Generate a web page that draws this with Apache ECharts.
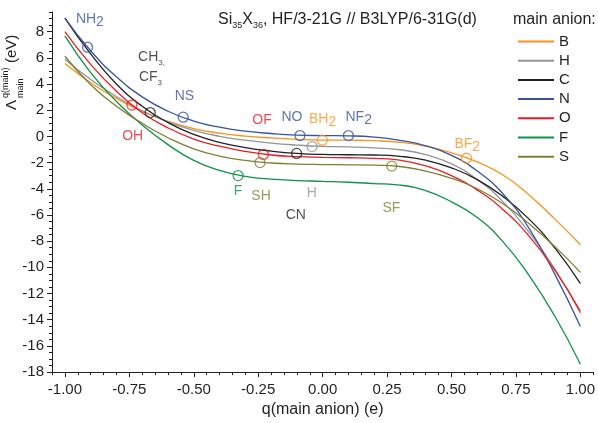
<!DOCTYPE html>
<html><head><meta charset="utf-8">
<script src="https://cdn.jsdelivr.net/npm/echarts@6/dist/echarts.min.js"></script>
<style>html,body{margin:0;padding:0;background:#fff}#c{width:598px;height:423px}</style>
</head><body><div id="c"></div>
<script>
// ---------- data ----------
const qs = [-1.0,-0.9,-0.8,-0.7,-0.6,-0.5,-0.4,-0.3,-0.2,-0.1,0,0.1,0.2,0.3,0.4,0.5,0.6,0.7,0.8,0.9,1.0];
const seriesNames = ['B','H','C','N','O','F','S'];
const valB = [5.57,4.1,2.9,1.9,1.15,0.6,0.25,0.02,-0.12,-0.22,-0.28,-0.29,-0.33,-0.45,-0.75,-1.25,-1.95,-2.95,-4.45,-6.3,-8.27];
const valH = [5.89,4.34,3.04,1.96,1.11,0.46,0.01,-0.29,-0.51,-0.66,-0.76,-0.8,-0.88,-1.02,-1.4,-2.1,-3.3,-5.0,-7.3,-10.1,-13.5];
const valC = [9.04,6.3,4.0,2.3,1.05,0.15,-0.45,-0.85,-1.12,-1.3,-1.38,-1.4,-1.42,-1.52,-1.82,-2.4,-3.3,-4.6,-6.3,-8.5,-11.25];
const valN = [9.04,6.54,4.55,3.02,1.92,1.17,0.7,0.4,0.22,0.1,0.06,0.04,-0.05,-0.3,-0.72,-1.45,-2.65,-4.4,-7.0,-10.5,-14.52];
const valO = [8.0,5.5,3.45,1.81,0.65,-0.2,-0.75,-1.15,-1.42,-1.55,-1.6,-1.63,-1.68,-1.82,-2.25,-3.0,-4.1,-5.6,-7.6,-10.2,-13.36];
const valF = [7.67,4.87,2.67,0.87,-0.63,-1.83,-2.6,-3.05,-3.27,-3.37,-3.43,-3.5,-3.6,-3.72,-4.15,-5.0,-6.2,-8.05,-10.6,-13.7,-17.4];
const valS = [6.12,3.95,2.3,1.0,-0.1,-0.95,-1.5,-1.83,-2.03,-2.12,-2.15,-2.17,-2.2,-2.3,-2.65,-3.2,-4.0,-5.15,-6.65,-8.4,-10.38];

const markB = [[-0.001,-0.29],[0.558,-1.67]];
const markH = [[-0.041,-0.78]];
const markC = [[-0.669,1.82],[-0.101,-1.30]];
const markN = [[-0.912,6.81],[-0.541,1.47],[-0.088,0.06],[0.1,0.06]];
const markO = [[-0.74,2.39],[-0.23,-1.38]];
const markF = [[-0.328,-2.99]];
const markS = [[-0.243,-2.0],[0.268,-2.27]];

// label text: [q, value, text, series]
const labelItems = [
  [-0.903, 8.94, 'NH{s|2}', 'N'],
  [-0.664, 6.09, 'CH{t|3,}', 'C'],
  [-0.668, 4.55, 'CF{t|3}', 'C'],
  [-0.536, 3.04, 'NS', 'N'],
  [-0.737, -0.01, 'OH', 'O'],
  [-0.235, 1.25, 'OF', 'O'],
  [-0.119, 1.45, 'NO', 'N'],
  [0.0, 1.35, 'BH{s|2}', 'B'],
  [0.14, 1.5, 'NF{s|2}', 'N'],
  [0.561, -0.6, 'BF{s|2}', 'B'],
  [-0.328, -4.18, 'F', 'F'],
  [-0.239, -4.59, 'SH', 'S'],
  [-0.042, -4.33, 'H', 'H'],
  [-0.104, -6.0, 'CN', 'C'],
  [0.267, -5.45, 'SF', 'S']
];

const xTicks = [-1.0,-0.75,-0.5,-0.25,0,0.25,0.5,0.75,1.0];
const yTicks = [-18,-16,-14,-12,-10,-8,-6,-4,-2,0,2,4,6,8];
const titleText = '{n|Si}{s|35}{n|X}{s|36}{n|, HF/3-21G // B3LYP/6-31G(d)}';
const legendTitle = 'main anion:';
const xName = 'q(main anion) (e)';

// ---------- chart ----------
const FONT = '"Liberation Sans", Arial, sans-serif';
const TXT = '#231f20';
const colors = {B:'#f7941d', H:'#939598', C:'#231f20', N:'#3953a4', O:'#ed1c24', F:'#0f9147', S:'#7f7f33'};
const vals = {B:valB, H:valH, C:valC, N:valN, O:valO, F:valF, S:valS};
const marks = {B:markB, H:markH, C:markC, N:markN, O:markO, F:markF, S:markS};

const series = [];
seriesNames.forEach(n => {
  series.push({
    name: n, type: 'line', smooth: true, symbol: 'none', showSymbol: false,
    data: qs.map((q, i) => [q, vals[n][i]]),
    lineStyle: {color: colors[n], width: 1.3},
    itemStyle: {color: colors[n]},
    z: 2, silent: true
  });
});
seriesNames.forEach(n => {
  series.push({
    name: n + '_m', type: 'scatter', symbol: 'circle', symbolSize: 10,
    data: marks[n],
    itemStyle: {color: 'rgba(0,0,0,0)', borderColor: colors[n], borderWidth: 1.3},
    z: 3, silent: true
  });
});
series.push({
  name: 'labels', type: 'scatter', symbolSize: 1, silent: true, z: 4,
  itemStyle: {color: 'rgba(0,0,0,0)'},
  data: labelItems.map(it => {
    const c = colors[it[3]];
    const txt = it[2];
    const hasSub = txt.indexOf('{') >= 0;
    const fmt = hasSub ? txt.replace(/^([^{]+)/, '{n|$1}') : txt;
    return {
      value: [it[0], it[1]],
      label: {
        show: true, position: 'inside', formatter: fmt,
        offset: hasSub ? [0, 1.5] : [0, 0],
        color: c, fontSize: 14, fontFamily: FONT,
        rich: {
          n: {color: c, fontSize: 14, fontFamily: FONT, lineHeight: 17, verticalAlign: 'top'},
          s: {color: c, fontSize: 14, fontFamily: FONT, lineHeight: 17, verticalAlign: 'bottom'},
          t: {color: c, fontSize: 8, fontFamily: FONT, lineHeight: 17, verticalAlign: 'bottom'}
        }
      }
    };
  })
});

const option = {
  animation: false,
  backgroundColor: '#fff',
  textStyle: {fontFamily: FONT},
  grid: {left: 52, right: 2.4, top: 12, bottom: 41.3, containLabel: false},
  title: {
    text: titleText, left: 218, top: 12, padding: 0,
    textStyle: {
      fontSize: 16, fontWeight: 'normal', color: TXT, fontFamily: FONT, lineHeight: 18,
      rich: {
        n: {fontSize: 16, color: TXT, fontFamily: FONT, lineHeight: 18, verticalAlign: 'top'},
        s: {fontSize: 9, color: TXT, fontFamily: FONT, lineHeight: 18, verticalAlign: 'bottom'}
      }
    }
  },
  legend: {
    data: seriesNames, orient: 'vertical', left: 513, top: 29,
    icon: 'rect', itemWidth: 36, itemHeight: 2, itemGap: 4.2,
    selectedMode: false,
    textStyle: {fontSize: 15, color: TXT, fontFamily: FONT, lineHeight: 14}
  },
  xAxis: [
    {
      type: 'value', min: -1.05, max: 1.05, position: 'bottom',
      axisLine: {onZero: false, lineStyle: {color: TXT, width: 1}},
      axisTick: {show: true, customValues: xTicks, length: 5, lineStyle: {color: TXT, width: 1}},
      axisLabel: {customValues: xTicks, formatter: v => v.toFixed(2), fontSize: 15, color: TXT, margin: 10, fontFamily: FONT},
      splitLine: {show: false},
      name: xName, nameLocation: 'middle', nameGap: 28,
      nameTextStyle: {fontSize: 16, color: TXT, fontFamily: FONT}
    },
    {
      type: 'value', min: -1.05, max: 1.05, interval: 0.05, position: 'bottom',
      axisLine: {show: false, onZero: false},
      axisTick: {show: true, length: 3, lineStyle: {color: TXT, width: 1}},
      axisLabel: {show: false}, splitLine: {show: false}
    }
  ],
  yAxis: [
    {
      type: 'value', min: -18, max: 9.5, position: 'left',
      axisLine: {show: true, onZero: false, lineStyle: {color: TXT, width: 1}},
      axisTick: {show: true, customValues: yTicks, length: 5, lineStyle: {color: TXT, width: 1}},
      axisLabel: {customValues: yTicks, fontSize: 15, color: TXT, margin: 8, fontFamily: FONT},
      splitLine: {show: false}
    },
    {
      type: 'value', min: -18, max: 9.5, interval: 0.5, position: 'left',
      axisLine: {show: false, onZero: false},
      axisTick: {show: true, length: 3, lineStyle: {color: TXT, width: 1}},
      axisLabel: {show: false}, splitLine: {show: false}
    }
  ],
  graphic: [
    {
      type: 'text', left: 513, top: 12,
      style: {text: legendTitle, fill: TXT, font: '16px ' + FONT}
    },
    {
      type: 'group', x: 12, y: 72, rotation: Math.PI / 2,
      children: [
        {type: 'text', x: -38, y: 0, style: {text: 'Λ', fill: TXT, font: '15px ' + FONT, textAlign: 'left', textVerticalAlign: 'middle', align: 'left', verticalAlign: 'middle'}},
        {type: 'text', x: -26, y: -6, style: {text: 'q(main)', fill: TXT, font: '9px ' + FONT, textAlign: 'left', textVerticalAlign: 'middle', align: 'left', verticalAlign: 'middle'}},
        {type: 'text', x: -26, y: 9, style: {text: 'main', fill: TXT, font: '9px ' + FONT, textAlign: 'left', textVerticalAlign: 'middle', align: 'left', verticalAlign: 'middle'}},
        {type: 'text', x: 9, y: 0, style: {text: '(eV)', fill: TXT, font: '15px ' + FONT, textAlign: 'left', textVerticalAlign: 'middle', align: 'left', verticalAlign: 'middle'}}
      ]
    }
  ],
  series: series
};

const chart = echarts.init(document.getElementById('c'));
chart.setOption(option);
</script>
</body></html>
